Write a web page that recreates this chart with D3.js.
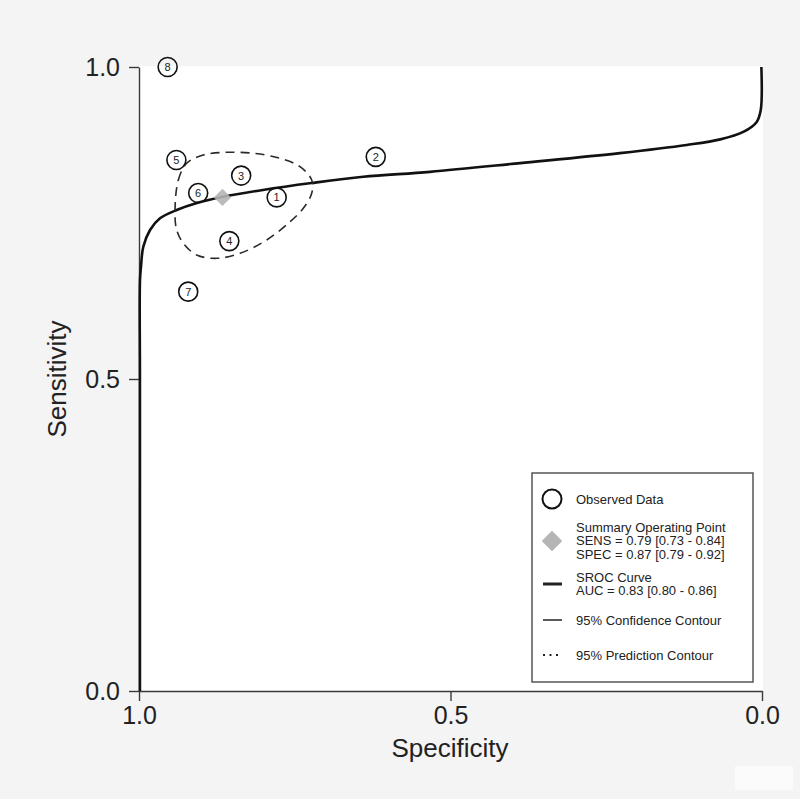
<!DOCTYPE html>
<html>
<head>
<meta charset="utf-8">
<script src="https://cdn.jsdelivr.net/npm/d3@7"></script>
<style>
  body { margin: 0; background: #f4f4f4; }
  svg { display: block; font-family: "Liberation Sans", Arial, sans-serif; }
</style>
</head>
<body>
<svg id="chart" width="800" height="799"></svg>
<script>
// study points
var studyIds = [1, 2, 3, 4, 5, 6, 7, 8];
var studySpec = [0.779, 0.620, 0.836, 0.855, 0.940, 0.905, 0.921, 0.954];
var studySens = [0.791, 0.856, 0.826, 0.721, 0.851, 0.798, 0.640, 1.0];

// summary operating point
var summarySpec = 0.866;
var summarySens = 0.791;

// SROC curve, read point by point
var srocSpec = [0.9985, 0.9985, 0.9984, 0.9968, 0.9931, 0.9823, 0.9663, 0.9395, 0.907, 0.865, 0.801, 0.723, 0.640, 0.533, 0.388, 0.228, 0.121, 0.067, 0.030, 0.0085, 0.002, 0.001];
var srocSens = [0.0, 0.50, 0.659, 0.680, 0.712, 0.7388, 0.7575, 0.7708, 0.782, 0.792, 0.803, 0.814, 0.824, 0.832, 0.846, 0.862, 0.875, 0.884, 0.896, 0.912, 0.931, 1.0];

// 95% confidence contour
var confSpec = [0.9422, 0.9369, 0.9234, 0.8968, 0.8592, 0.8165, 0.7737, 0.7416, 0.7228, 0.7228, 0.7363, 0.7576, 0.7950, 0.8379, 0.8753, 0.9074, 0.9289, 0.9395];
var confSens = [0.7681, 0.8189, 0.8457, 0.8590, 0.8633, 0.8617, 0.8537, 0.8402, 0.8189, 0.7976, 0.7736, 0.7521, 0.7228, 0.7014, 0.6934, 0.6987, 0.7175, 0.7388];

var tickValues = [0, 0.5, 1];

var legendLabels = [
  ["Observed Data"],
  ["Summary Operating Point", "SENS = 0.79 [0.73 - 0.84]", "SPEC = 0.87 [0.79 - 0.92]"],
  ["SROC Curve", "AUC = 0.83 [0.80 - 0.86]"],
  ["95% Confidence Contour"],
  ["95% Prediction Contour"]
];

var svg = d3.select("#chart");

var x = d3.scaleLinear().domain([1, 0]).range([139, 762]);
var y = d3.scaleLinear().domain([0, 1]).range([691, 67]);

// white plotting panel
svg.append("rect")
  .attr("x", x(1))
  .attr("y", 66)
  .attr("width", 763 - x(1))
  .attr("height", y(0) - 66)
  .attr("fill", "#ffffff");

// faint mark bottom right
svg.append("rect")
  .attr("x", 735).attr("y", 766)
  .attr("width", 58).attr("height", 24)
  .attr("fill", "#fbfbfb");

// axes
var yAxis = svg.append("g")
  .attr("transform", "translate(" + x(1) + ",0)")
  .call(d3.axisLeft(y).tickValues(tickValues).tickFormat(d3.format(".1f")).tickSize(10).tickSizeOuter(0).tickPadding(9));

var xAxis = svg.append("g")
  .attr("transform", "translate(0," + y(0) + ")")
  .call(d3.axisBottom(x).tickValues(tickValues).tickFormat(d3.format(".1f")).tickSize(10).tickSizeOuter(0).tickPadding(5));

[xAxis, yAxis].forEach(function(ax) {
  ax.selectAll("path, line").attr("stroke", "#3a3a3a").attr("stroke-width", 1.4);
  ax.selectAll("text").attr("fill", "#222").style("font-size", "25px").style("font-family", "Liberation Sans, Arial, sans-serif");
});

// axis titles
svg.append("text")
  .attr("x", 450)
  .attr("y", 757)
  .attr("text-anchor", "middle")
  .attr("fill", "#222")
  .style("font-size", "26px")
  .text("Specificity");

svg.append("text")
  .attr("transform", "translate(66,379) rotate(-90)")
  .attr("text-anchor", "middle")
  .attr("fill", "#222")
  .style("font-size", "26px")
  .text("Sensitivity");

// SROC curve
var srocPts = srocSpec.map(function(s, i) { return [s, srocSens[i]]; });
var line = d3.line()
  .x(function(d) { return x(d[0]); })
  .y(function(d) { return y(d[1]); })
  .curve(d3.curveCatmullRom.alpha(0.5));

svg.append("path")
  .datum(srocPts)
  .attr("d", line)
  .attr("fill", "none")
  .attr("stroke", "#111")
  .attr("stroke-width", 2.6);

// confidence contour (closed, dashed)
var confPts = confSpec.map(function(s, i) { return [s, confSens[i]]; });
var closedLine = d3.line()
  .x(function(d) { return x(d[0]); })
  .y(function(d) { return y(d[1]); })
  .curve(d3.curveCatmullRomClosed.alpha(0.5));

svg.append("path")
  .datum(confPts)
  .attr("d", closedLine)
  .attr("fill", "none")
  .attr("stroke", "#2a2a2a")
  .attr("stroke-width", 1.6)
  .attr("stroke-dasharray", "9,6");

// summary point: a square turned 45 degrees
svg.append("path")
  .attr("d", d3.symbol().type(d3.symbolSquare).size(150))
  .attr("transform", "translate(" + x(summarySpec) + "," + y(summarySens) + ") rotate(45)")
  .attr("fill", "#b5b5b5")
  .attr("opacity", 0.9);

// observed studies
var study = svg.selectAll(".study")
  .data(studyIds)
  .enter().append("g")
  .attr("class", "study")
  .attr("transform", function(d, i) {
    return "translate(" + x(studySpec[i]) + "," + y(studySens[i]) + ")";
  });

study.append("circle")
  .attr("r", 9.5)
  .attr("fill", "none")
  .attr("stroke", "#111")
  .attr("stroke-width", 1.6);

study.append("text")
  .attr("text-anchor", "middle")
  .attr("dy", "0.36em")
  .attr("fill", "#222")
  .style("font-size", "11px")
  .text(function(d) { return d; });

// legend
var legend = svg.append("g");
legend.append("rect")
  .attr("x", 532).attr("y", 473)
  .attr("width", 221).attr("height", 209)
  .attr("fill", "#ffffff")
  .attr("stroke", "#555")
  .attr("stroke-width", 1.5);

var legendY = [499, 527, 577, 620, 655];
var textX = 576;

legend.append("circle")
  .attr("cx", 552).attr("cy", legendY[0])
  .attr("r", 9.5)
  .attr("fill", "none")
  .attr("stroke", "#111")
  .attr("stroke-width", 2);

legend.append("path")
  .attr("d", d3.symbol().type(d3.symbolSquare).size(210))
  .attr("transform", "translate(552,541) rotate(45)")
  .attr("fill", "#b5b5b5");

legend.append("line")
  .attr("x1", 543).attr("x2", 562).attr("y1", 584).attr("y2", 584)
  .attr("stroke", "#222").attr("stroke-width", 3);

legend.append("line")
  .attr("x1", 543).attr("x2", 562).attr("y1", 620).attr("y2", 620)
  .attr("stroke", "#222").attr("stroke-width", 1.5);

legend.append("line")
  .attr("x1", 543).attr("x2", 562).attr("y1", 655).attr("y2", 655)
  .attr("stroke", "#222").attr("stroke-width", 2)
  .attr("stroke-dasharray", "2,4.5");

legendLabels.forEach(function(lines, i) {
  lines.forEach(function(l, j) {
    legend.append("text")
      .attr("x", textX)
      .attr("y", legendY[i] + j * 13.5)
      .attr("dy", "0.35em")
      .attr("fill", "#222")
      .style("font-size", "13px")
      .text(l);
  });
});
</script>
</body>
</html>
